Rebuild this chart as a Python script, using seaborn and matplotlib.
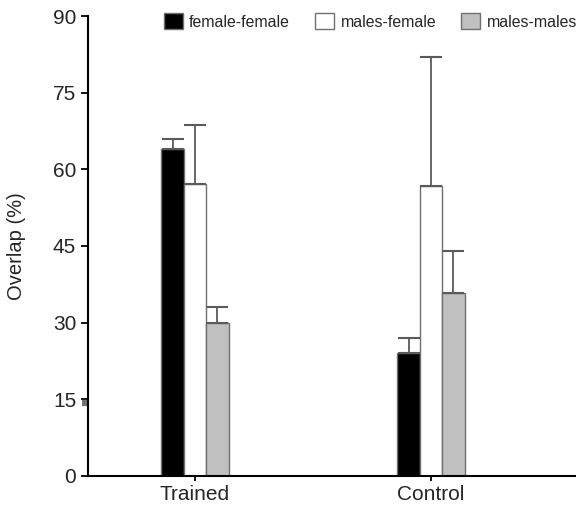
import matplotlib
matplotlib.use("Agg")
import matplotlib.pyplot as plt
import matplotlib.transforms as mtransforms
import seaborn as sns
import pandas as pd
import numpy as np

groups = ["Trained", "Control"]
pairs = ["female-female", "males-female", "males-males"]
means = {
    "female-female": [64.0, 24.0],
    "males-female": [57.1, 56.8],
    "males-males": [29.9, 35.8],
}
upper = {
    "female-female": [66.0, 27.0],
    "males-female": [68.6, 82.0],
    "males-males": [33.0, 44.0],
}
colors = ["#000000", "#ffffff", "#c0c0c0"]
yticks = [0, 15, 30, 45, 60, 75, 90]

rows = []
for p in pairs:
    for g, m, u in zip(groups, means[p], upper[p]):
        rows.append({"group": g, "pair": p, "value": m, "upper": u})
df = pd.DataFrame(rows)

sns.set_style("ticks")
plt.rcParams["font.family"] = ["Liberation Sans", "DejaVu Sans"]

fig = plt.figure(figsize=(5.76, 5.08), dpi=100)
ax = fig.add_axes([0.1528, 0.063, 0.8472, 0.9055])

sns.barplot(data=df, x="group", y="value", hue="pair", order=groups,
            hue_order=pairs, palette=colors, width=0.285, errorbar=None,
            edgecolor="#707070", linewidth=1.0, ax=ax, legend=True)

# upper-only error bars
for p, cont in zip(pairs, ax.containers):
    for bar, g in zip(cont, groups):
        row = df[(df.pair == p) & (df.group == g)].iloc[0]
        xc = bar.get_x() + bar.get_width() / 2
        ax.errorbar([xc], [row.value], yerr=[[0], [row.upper - row.value]],
                    fmt="none", ecolor="#5a5a5a", elinewidth=1.3,
                    capsize=7.8, capthick=1.5, zorder=1)

ax.set_xlim(-0.453, 1.614)
ax.set_ylim(0, 90)
ax.set_yticks(yticks)
ax.set_yticklabels([str(t) for t in yticks])
ax.set_xlabel("")
ax.set_ylabel("Overlap (%)", fontsize=14.5)
ax.yaxis.set_label_coords(-0.128, 0.5)
ax.tick_params(axis="both", labelsize=15, color="black", width=1.3)
ax.tick_params(axis="y", length=5, pad=3.5)
ax.tick_params(axis="x", length=3.5, pad=3)
for s in ["top", "right"]:
    ax.spines[s].set_visible(False)
for s in ["left", "bottom"]:
    ax.spines[s].set_linewidth(1.5)
    ax.spines[s].set_color("black")

# small grey mark beside the 15 tick
trans = mtransforms.blended_transform_factory(ax.transAxes, ax.transData)
ax.plot([-0.012, -0.002], [14.2, 14.2], transform=trans, color="#707070",
        lw=4.5, solid_capstyle="butt", clip_on=False)

handles, labels = ax.get_legend_handles_labels()
ax.get_legend().remove()
fig.legend(handles, labels, loc="center", bbox_to_anchor=(0.643, 0.958),
           ncol=3, frameon=False, fontsize=11.4, handlelength=1.2,
           handleheight=1.2, handletextpad=0.4, columnspacing=1.6,
           borderaxespad=0, borderpad=0)

fig.savefig("out.png", dpi=100)
